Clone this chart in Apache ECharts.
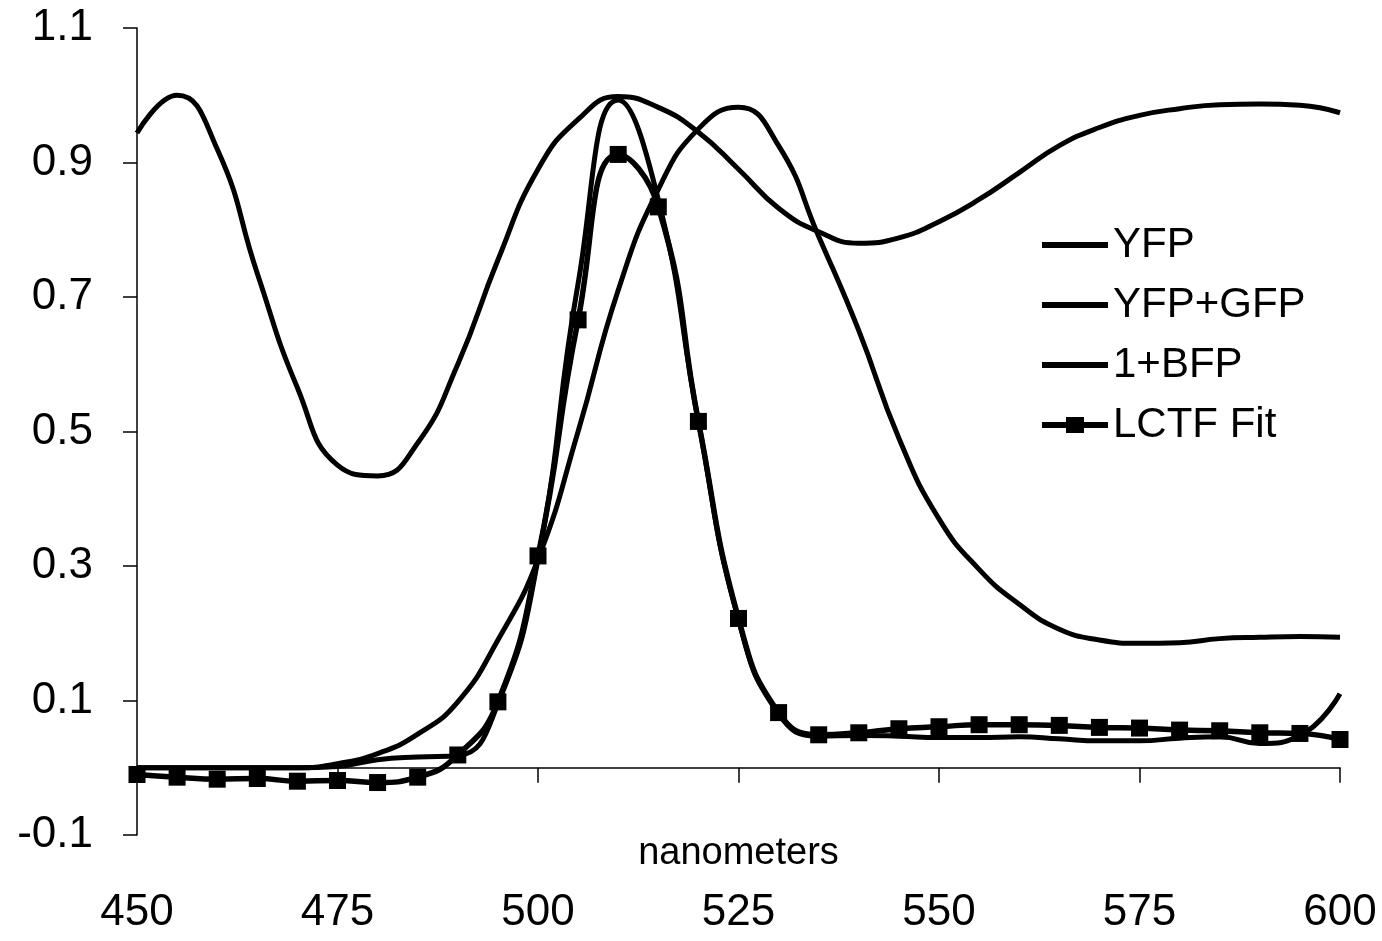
<!doctype html>
<html lang="en">
    <head>
        <meta charset="UTF-8" />
        <title>LCTF fit spectra</title>
        <script src="https://cdn.jsdelivr.net/npm/echarts@6.0.0/dist/echarts.min.js"></script>
        <style>
            html, body { margin: 0; padding: 0; background: #fff; }
        </style>
    </head>
    <body>
        <!-- Chart container -->
        <div id="main" style="width: 1382px; height: 941px"></div>

        <script>
            // Wavelengths (nm), one reading every 5 nm
            const wavelengths = [
                450, 455, 460, 465, 470, 475, 480, 485, 490, 495, 500,
                505, 510, 515, 520, 525, 530, 535, 540, 545, 550,
                555, 560, 565, 570, 575, 580, 585, 590, 595, 600,
            ];

            const yfp = [
                0.0, 0.0, 0.0, 0.0, 0.0, 0.006, 0.021, 0.05, 0.098, 0.19, 0.31,
                0.5, 0.71, 0.86, 0.95, 0.982, 0.925, 0.79, 0.65, 0.49, 0.37,
                0.295, 0.243, 0.206, 0.19, 0.185, 0.186, 0.192, 0.194, 0.195, 0.194,
            ];

            const yfpGfp = [
                0.0, 0.0, 0.0, 0.0, 0.0, 0.002, 0.012, 0.016, 0.018, 0.095, 0.31,
                0.72, 0.993, 0.845, 0.515, 0.22, 0.08, 0.047, 0.048, 0.047, 0.045,
                0.045, 0.046, 0.043, 0.04, 0.04, 0.044, 0.046, 0.036, 0.048, 0.11,
            ];

            const onePlusBfp = [
                0.944, 1.0, 0.92, 0.735, 0.565, 0.45, 0.434, 0.483, 0.6, 0.755, 0.89,
                0.964, 0.998, 0.982, 0.945, 0.89, 0.832, 0.797, 0.78, 0.788, 0.812,
                0.845, 0.885, 0.925, 0.952, 0.97, 0.98, 0.986, 0.987, 0.985, 0.974,
            ];

            const lctfFit = [
                -0.01, -0.014, -0.017, -0.016, -0.02, -0.019, -0.022, -0.014, 0.019, 0.098, 0.315,
                0.666, 0.912, 0.834, 0.515, 0.222, 0.082, 0.049, 0.052, 0.058, 0.061,
                0.064, 0.064, 0.063, 0.06, 0.059, 0.056, 0.055, 0.052, 0.051, 0.042,
            ];

            const seriesNames = ["YFP", "YFP+GFP", "1+BFP", "LCTF Fit"];

            const font = "Liberation Sans";
            const pairs = (ys) => wavelengths.map((x, i) => [x, ys[i]]);

            // legend icons: a plain bar, and a bar with a square on it
            const barIcon = "path://M0,0 M66,18 M0,6 H66 V12 H0 Z";
            const barSquareIcon = "path://M0,0 M66,18 M0,6 H66 V12 H0 Z M24,1 H42 V17 H24 Z";

            function curve(name, ys) {
                return {
                    name: name,
                    type: "line",
                    data: pairs(ys),
                    smooth: 0.5,
                    symbol: "none",
                    lineStyle: { color: "#000", width: 5 },
                    itemStyle: { color: "#000" },
                };
            }

            const myChart = echarts.init(document.getElementById("main"));

            const options = {
                animation: false,
                backgroundColor: "#fff",
                grid: {
                    left: 137, right: 42, top: 28, bottom: 106,
                    containLabel: false,
                    outerBoundsMode: "none",
                },
                legend: {
                    data: [
                        { name: seriesNames[0], icon: barIcon },
                        { name: seriesNames[1], icon: barIcon },
                        { name: seriesNames[2], icon: barIcon },
                        { name: seriesNames[3], icon: barSquareIcon },
                    ],
                    orient: "vertical",
                    left: 1037,
                    top: 219,
                    itemWidth: 66,
                    itemHeight: 18,
                    itemGap: 18,
                    itemStyle: { color: "#000" },
                    textStyle: {
                        fontFamily: font,
                        fontSize: 42,
                        lineHeight: 42,
                        color: "#000",
                    },
                },
                xAxis: {
                    type: "value",
                    min: 450,
                    max: 600,
                    interval: 25,
                    name: "nanometers",
                    nameLocation: "middle",
                    nameGap: 0,
                    nameMoveOverlap: false,
                    nameTextStyle: { fontFamily: font, fontSize: 38, color: "#000" },
                    axisLine: { onZero: true, lineStyle: { color: "#000", width: 1.5 } },
                    axisTick: { inside: false, length: 15, lineStyle: { color: "#000", width: 1.5 } },
                    axisLabel: {
                        margin: 56,
                        fontFamily: font,
                        fontSize: 44,
                        lineHeight: 44,
                        color: "#000",
                    },
                    splitLine: { show: false },
                },
                yAxis: {
                    type: "value",
                    min: -0.1,
                    max: 1.1,
                    interval: 0.2,
                    axisLine: { show: true, lineStyle: { color: "#000", width: 1.5 } },
                    axisTick: { show: true, length: 14, lineStyle: { color: "#000", width: 1.5 } },
                    axisLabel: {
                        margin: 44,
                        fontFamily: font,
                        fontSize: 44,
                        color: "#000",
                        formatter: (v) => (Math.round(v * 10) / 10).toFixed(1),
                    },
                    splitLine: { show: false },
                },
                series: [
                    curve(seriesNames[0], yfp),
                    curve(seriesNames[1], yfpGfp),
                    curve(seriesNames[2], onePlusBfp),
                    {
                        name: seriesNames[3],
                        type: "line",
                        data: pairs(lctfFit),
                        smooth: 0.5,
                        symbol: "rect",
                        symbolSize: 17,
                        lineStyle: { color: "#000", width: 5.5 },
                        itemStyle: { color: "#000" },
                    },
                ],
            };

            myChart.setOption(options);
        </script>
    </body>
</html>
